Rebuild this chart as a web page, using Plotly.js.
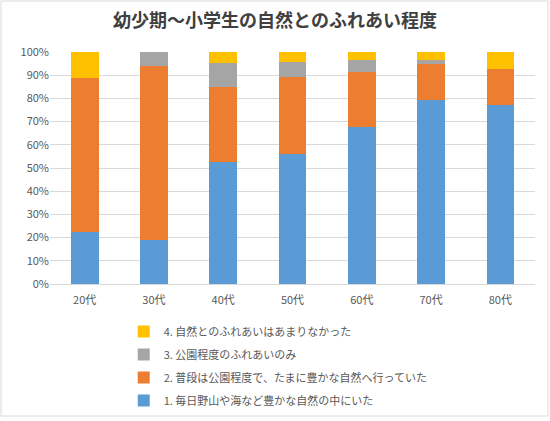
<!DOCTYPE html>
<html>
<head>
<meta charset="utf-8">
<script src="https://cdn.plot.ly/plotly-3.0.1.min.js"></script>
<style>body{margin:0;background:#fff}</style>
</head>
<body>
<div id="chart"></div>
<script>
// age groups and share of each answer (fractions of 1)
var ageGroups = ['20代', '30代', '40代', '50代', '60代', '70代', '80代'];
var seriesNames = [
  '1. 毎日野山や海など豊かな自然の中にいた',
  '2. 普段は公園程度で、たまに豊かな自然へ行っていた',
  '3. 公園程度のふれあいのみ',
  '4. 自然とのふれあいはあまりなかった'
];
var everyday = [0.223, 0.191, 0.527, 0.562, 0.675, 0.792, 0.771];
var sometimes = [0.665, 0.750, 0.324, 0.332, 0.240, 0.156, 0.155];
var parkOnly = [0.000, 0.059, 0.100, 0.063, 0.052, 0.016, 0.000];
var rarely = [0.112, 0.000, 0.049, 0.043, 0.033, 0.036, 0.074];

var colors = ['#5B9BD5', '#ED7D31', '#A5A5A5', '#FFC000'];
var values = [everyday, sometimes, parkOnly, rarely];

var traces = values.map(function(v, i) {
  return {
    x: ageGroups,
    y: v,
    type: 'bar',
    name: seriesNames[i],
    legendgroup: 'g' + i,
    legendrank: 100 - i,   // 4 on top, 1 at bottom like the original
    marker: {color: colors[i]},
    hoverinfo: 'x+y+name'
  };
});

// paper is 485 x 369 px; the bars only use the upper part so the
// legend sits inside the paper and doesn't push the margins around
var layout = {
  width: 550,
  height: 421,
  barmode: 'stack',
  bargap: 0.6,
  font: {family: '"Noto Sans CJK JP", "Noto Sans", sans-serif', color: '#595959', size: 11},
  title: {
    text: '<b>幼少期～小学生の自然とのふれあい程度</b>',
    font: {size: 18, color: '#404040'},
    x: 0.5, xanchor: 'center', y: 0.952, yanchor: 'middle'
  },
  margin: {l: 50, r: 15, t: 52, b: 0},
  xaxis: {
    showline: true, linecolor: '#D9D9D9', tickfont: {size: 11, color: '#595959'},
    ticks: '', ticklabelstandoff: 6, automargin: false
  },
  yaxis: {
    domain: [137 / 369, 1],
    range: [0, 1], tickformat: '.0%', dtick: 0.1,
    gridcolor: '#D9D9D9', zeroline: false, automargin: false,
    tickfont: {size: 11, color: '#595959'}
  },
  showlegend: true,
  legend: {
    traceorder: 'grouped',
    tracegroupgap: 4,
    x: 0.152, xanchor: 'left',
    y: 0.282, yanchor: 'top',
    bgcolor: 'rgba(0,0,0,0)',
    font: {size: 11, color: '#595959'},
    itemwidth: 30
  },
  shapes: [{
    type: 'rect', xref: 'paper', yref: 'paper',
    x0: -49 / 485, x1: 498 / 485, y0: 5 / 369, y1: 420 / 369,
    line: {color: '#D9D9D9', width: 1}, layer: 'below'
  }]
};

Plotly.newPlot('chart', traces, layout, {displayModeBar: false});
</script>
</body>
</html>
